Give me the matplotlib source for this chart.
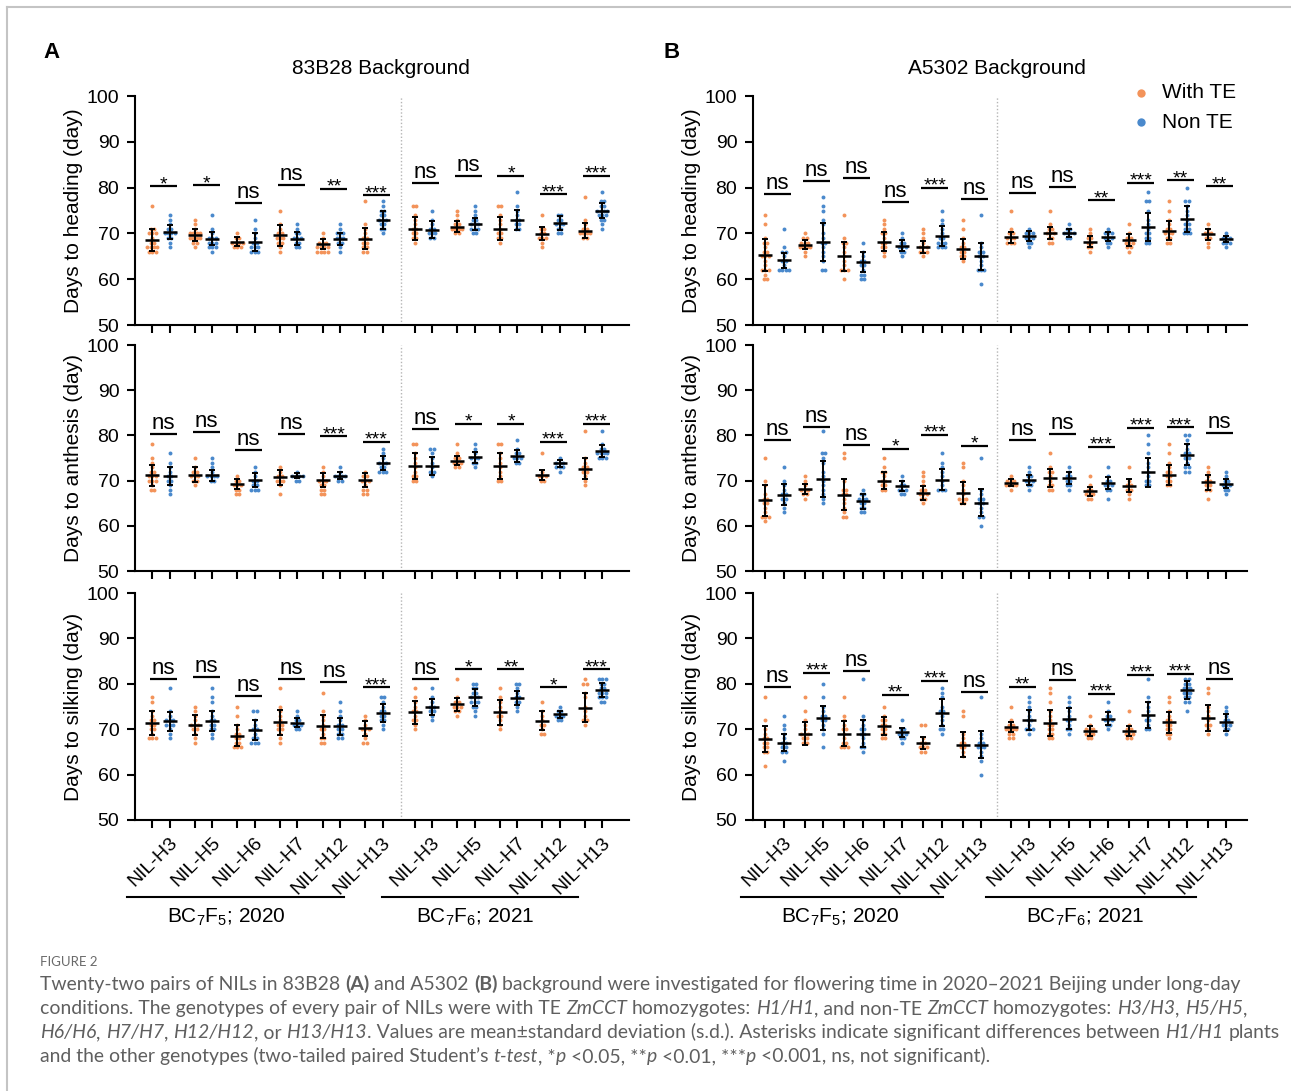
import matplotlib
matplotlib.use('Agg')
import matplotlib.pyplot as plt
from collections import Counter

plt.rcParams['font.family'] = ['Liberation Sans', 'DejaVu Sans']
plt.rcParams['mathtext.fontset'] = 'custom'
plt.rcParams['mathtext.rm'] = 'Liberation Sans'
plt.rcParams['mathtext.it'] = 'Liberation Sans:italic'

ORANGE = '#F3935A'
BLUE = '#4A89CC'

# ---------------- categories ----------------
A_labels_2020 = ['NIL-H3', 'NIL-H5', 'NIL-H6', 'NIL-H7', 'NIL-H12', 'NIL-H13']
A_labels_2021 = ['NIL-H3', 'NIL-H5', 'NIL-H7', 'NIL-H12', 'NIL-H13']
B_labels_2020 = ['NIL-H3', 'NIL-H5', 'NIL-H6', 'NIL-H7', 'NIL-H12', 'NIL-H13']
B_labels_2021 = ['NIL-H3', 'NIL-H5', 'NIL-H6', 'NIL-H7', 'NIL-H12', 'NIL-H13']
row_labels = ['Days to heading (day)', 'Days to anthesis (day)', 'Days to silking (day)']
legend_labels = ['With TE', 'Non TE']

# ---------------- Panel A: 83B28, heading ----------------
AH_te_pts = [[76,71,71,70,70,70,69,68,68,67,67,67,67,66,66,66],[73,72,71,70,70,70,70,69,69,69,69,68,68,67],
             [70,69,69,68,68,68,68,67,67,67],[75,72,71,70,70,69,69,69,68,68,67,66],
             [70,69,68,68,68,67,67,67,67,66,66,66,66],[77,72,71,70,69,69,68,68,67,67,66,66],
             [76,76,74,73,72,71,71,70,70,69,69,68],[75,74,73,72,72,71,71,71,71,70,70],
             [76,76,74,73,72,71,70,70,69,69,68],[74,71,71,70,70,69,69,69,68,67],
             [78,73,72,71,71,70,70,70,70,69,69]]
AH_non_pts = [[74,73,72,71,71,70,70,70,70,69,69,68,67],[74,71,70,69,69,69,68,68,68,67,67,67,66],
              [73,71,70,69,68,68,67,67,67,66,66,66],[72,71,70,70,69,69,69,68,68,67,67],
              [72,71,70,70,70,69,69,69,68,68,67,66],[77,76,75,75,74,74,73,73,73,72,72,71,71,70],
              [75,73,72,71,71,70,70,70,69,69],[76,75,74,73,73,72,72,72,71,71,71,70,70],
              [79,76,75,74,73,73,72,72,71,71],[74,74,73,73,72,72,72,71,71,70,70],
              [79,77,77,76,76,75,75,75,75,74,74,74,73,73,72,71]]
AH_te_mean = [68.6, 69.7, 68.2, 69.6, 67.7, 68.8, 71.0, 71.5, 71.0, 69.9, 70.6]
AH_te_sd = [2.4, 1.3, 1.0, 2.3, 1.1, 2.3, 2.5, 1.2, 2.5, 1.4, 1.7]
AH_non_mean = [70.3, 68.8, 68.1, 68.8, 68.8, 73.0, 70.8, 72.1, 73.0, 72.3, 75.0]
AH_non_sd = [1.6, 1.4, 1.9, 1.4, 1.3, 2.0, 1.8, 1.3, 2.2, 1.6, 1.7]
AH_sig = ['*', '*', 'ns', 'ns', '**', '***', 'ns', 'ns', '*', '***', '***']
AH_sig_y = [80.3, 80.5, 76.6, 80.5, 79.7, 78.3, 81.0, 82.5, 82.5, 78.5, 82.5]

# ---------------- Panel A: anthesis ----------------
AA_te_pts = [[78,75,74,73,72,72,71,71,71,70,70,70,69,68,68],[75,73,72,72,71,71,71,70,70,69],
             [71,70,70,69,69,69,68,68,67,67],[73,72,71,71,70,70,70,69,67],
             [73,72,71,70,70,70,69,69,68,68,67,67],[72,71,71,70,70,70,69,68,68,67,67],
             [78,78,76,75,74,73,72,71,71,70,70],[78,76,75,75,74,74,74,73,73],
             [78,78,76,75,74,73,72,71,70,70],[76,72,71,71,71,70,70],
             [81,75,74,73,73,72,72,71,70,69]]
AA_non_pts = [[76,74,73,72,71,71,70,70,69,68,67],[75,74,73,72,71,71,71,71,70,70],
              [73,72,71,70,70,69,69,68,68,68],[72,71,71,71,71,70,70],
              [73,72,71,71,71,71,70,70],[77,76,75,74,74,74,73,73,72,72,72],
              [77,77,76,75,74,73,72,72,71],[78,77,76,75,75,75,74,74,73],
              [79,77,76,76,75,75,75,74,74],[75,74,74,74,73,73,73,72],
              [81,78,77,77,76,76,76,76,75,75,75]]
AA_te_mean = [71.2, 71.3, 69.3, 70.7, 70.1, 70.1, 73.2, 74.4, 73.2, 71.2, 72.6]
AA_te_sd = [2.3, 1.6, 1.1, 1.6, 1.6, 1.6, 2.9, 1.0, 2.9, 1.1, 2.3]
AA_non_mean = [71.0, 71.2, 70.1, 71.1, 71.1, 73.9, 73.3, 75.2, 75.4, 73.8, 76.5]
AA_non_sd = [1.9, 1.2, 1.5, 0.6, 0.8, 1.5, 2.0, 1.2, 1.3, 0.8, 1.3]
AA_sig = ['ns', 'ns', 'ns', 'ns', '***', '***', 'ns', '*', '*', '***', '***']
AA_sig_y = [80.4, 80.7, 76.8, 80.4, 79.8, 78.5, 81.5, 82.5, 82.5, 78.5, 82.5]

# ---------------- Panel A: silking ----------------
AS_te_pts = [[77,76,74,73,72,72,71,71,70,70,69,68,68,68],[75,74,73,72,71,71,71,70,70,69,68,67],
             [75,73,71,70,69,69,68,68,67,67,66,66,66],[79,75,74,73,72,71,71,70,70,69,68,67],
             [78,74,73,72,71,70,70,69,68,68,67,67],[73,72,71,70,70,70,69,68,67,67],
             [79,77,76,75,74,74,73,72,72,71,70],[81,77,76,76,75,75,75,74,74,73],
             [79,77,76,75,74,73,73,72,71,70],[76,74,73,72,71,71,70,69,69],
             [81,80,80,78,77,75,74,73,72,72,71]]
AS_non_pts = [[79,74,73,72,72,72,71,71,71,70,69,68],[79,77,76,74,73,72,72,71,71,70,70,69,68],
              [74,74,72,71,70,70,69,68,68,67,67,67],[74,73,72,72,71,71,71,70,70],
              [76,74,73,72,71,71,70,70,69,69,68,68],[77,77,76,75,74,74,73,73,72,72,71,70],
              [79,77,76,75,75,74,74,73,72],[80,80,79,79,78,78,77,77,77,76,76,76,75,75,74,73],
              [80,80,79,78,77,77,76,76,75,74],[75,74,74,73,73,73,72,72],
              [81,81,81,80,80,79,79,78,78,78,77,77,77,76,76]]
AS_te_mean = [71.4, 71.0, 68.6, 71.5, 70.6, 70.2, 73.7, 75.5, 73.7, 71.9, 74.7]
AS_te_sd = [2.7, 2.2, 2.4, 2.8, 2.6, 1.6, 2.6, 1.4, 2.7, 2.0, 3.2]
AS_non_mean = [71.7, 71.8, 69.8, 71.4, 70.6, 73.6, 74.9, 77.0, 76.9, 73.3, 78.6]
AS_non_sd = [2.0, 2.2, 2.2, 1.0, 1.8, 2.0, 1.7, 1.8, 1.6, 0.8, 1.6]
AS_sig = ['ns', 'ns', 'ns', 'ns', 'ns', '***', 'ns', '*', '**', '*', '***']
AS_sig_y = [81.1, 81.4, 77.4, 81.1, 80.5, 79.2, 81.1, 83.2, 83.2, 79.2, 83.2]

# ---------------- Panel B: A5302, heading ----------------
BH_te_pts = [[74,72,69,68,68,67,66,66,65,65,65,64,63,62,62,62,61,60,60],[70,69,69,68,68,68,67,67,67,67,66,65],
             [74,69,68,68,67,66,65,64,63,62,62,62,60],[73,72,71,70,70,69,68,68,67,67,66,65],
             [71,70,69,68,67,67,67,66,66,66,65],[73,71,69,68,67,67,66,66,65,65,64],
             [75,71,70,70,69,69,69,68,68,68],[75,72,71,71,70,70,70,69,69,68,68],
             [71,70,69,69,68,68,67,67,66],[72,70,69,69,68,68,68,67,67,66],
             [77,75,73,72,71,71,70,70,70,69,69,68,68],[72,71,70,70,70,69,69,68,67]]
BH_non_pts = [[71,67,66,66,65,64,64,63,62,62,62,62],[78,76,75,73,72,70,69,68,68,67,66,65,64,62,62],
              [68,66,65,64,64,63,63,62,61,61,60,60],[70,69,68,68,67,67,67,66,66,65],
              [75,73,72,71,70,69,69,68,68,68,67,67,67],[74,68,67,66,66,65,65,64,63,62,62,62,59],
              [71,70,70,70,69,69,69,68,68,67],[72,71,71,70,70,70,70,69,69],
              [71,70,70,70,69,69,69,68,68,67],[79,77,77,75,73,72,71,70,70,69,69,68,68],
              [80,77,77,76,75,74,73,72,72,71,71,70,70,70],[70,69,69,69,68,68,68,67]]
BH_te_mean = [65.3, 67.5, 65.0, 68.2, 67.0, 66.6, 69.2, 70.1, 68.2, 68.5, 70.6, 69.8]
BH_te_sd = [3.5, 1.0, 3.2, 2.1, 1.3, 2.1, 1.2, 1.4, 1.2, 1.3, 2.0, 1.2]
BH_non_mean = [64.1, 68.1, 63.7, 67.3, 69.4, 65.0, 69.5, 70.1, 69.3, 71.4, 73.1, 68.8]
BH_non_sd = [1.7, 4.2, 2.2, 1.2, 2.2, 2.9, 1.1, 0.9, 0.9, 3.0, 2.8, 0.7]
BH_sig = ['ns', 'ns', 'ns', 'ns', '***', 'ns', 'ns', 'ns', '**', '***', '**', '**']
BH_sig_y = [78.7, 81.5, 82.1, 76.8, 80.0, 77.5, 78.8, 80.2, 77.2, 81.1, 81.6, 80.3]

# ---------------- Panel B: anthesis ----------------
BA_te_pts = [[75,70,69,67,66,66,65,65,64,63,62,62,62,61],[71,70,69,68,68,68,67,67,66],
             [76,75,70,68,68,67,67,66,65,64,63,62,62],[75,73,72,72,71,70,70,69,69,68,68],
             [72,71,70,69,68,68,67,67,67,66,66,65],[74,73,70,69,68,67,66,66,66,65,65],
             [71,70,70,70,69,69,69,69,68],[76,73,72,72,71,70,69,69,68,68],
             [71,69,68,68,67,67,67,66,66],[73,70,69,69,68,68,67,66],
             [78,76,74,73,72,72,71,71,70,70,69,69],[73,72,71,70,70,69,69,68,68,66]]
BA_non_pts = [[73,70,69,68,67,67,66,66,65,64,63],[81,76,76,75,74,72,71,70,69,68,67,66,65],
              [68,67,67,66,66,66,65,65,64,64,63,63],[71,70,69,69,68,68,68,67,67],
              [76,74,73,72,71,70,69,68,68,68],[75,68,67,66,66,65,65,64,63,62,62,60],
              [73,72,71,71,70,70,70,69,69,68],[73,72,71,71,70,70,69,69,68],
              [73,71,70,70,69,69,69,68,68,66],[80,78,76,74,73,72,71,70,70,69,69],
              [80,80,79,78,77,76,76,75,75,74,73,73,72,72],[72,71,70,70,69,69,69,68,68,67]]
BA_te_mean = [65.6, 68.2, 66.9, 70.0, 67.3, 67.3, 69.5, 70.6, 67.6, 68.9, 71.3, 69.6]
BA_te_sd = [3.4, 1.1, 3.4, 1.9, 1.6, 2.5, 0.8, 2.0, 1.0, 1.5, 2.2, 1.6]
BA_non_mean = [66.9, 70.4, 65.4, 68.8, 70.2, 65.1, 70.2, 70.6, 69.5, 71.8, 75.7, 69.3]
BA_non_sd = [2.3, 4.0, 1.7, 1.2, 2.3, 3.0, 1.1, 1.4, 1.4, 3.2, 2.3, 1.0]
BA_sig = ['ns', 'ns', 'ns', '*', '***', '*', 'ns', 'ns', '***', '***', '***', 'ns']
BA_sig_y = [79.0, 81.8, 77.9, 77.1, 80.1, 77.7, 79.0, 80.4, 77.4, 81.6, 81.8, 80.5]

# ---------------- Panel B: silking ----------------
BS_te_pts = [[77,72,70,69,68,68,67,67,66,66,65,65,62],[77,74,72,71,70,69,69,69,68,68,67,67],
             [77,73,72,71,70,70,69,68,67,67,66,66,66],[75,73,72,72,71,71,70,70,69,69,68,68],
             [71,71,68,67,67,66,66,66,65,65],[74,73,69,68,67,67,66,66,65,64],
             [75,72,71,71,70,70,70,70,69,69,68,68],[79,78,76,74,73,72,71,71,70,70,69,69,68,68],
             [73,71,70,70,70,69,69,69,68,68],[74,71,70,70,69,69,69,68,68],
             [77,76,74,73,72,72,71,71,70,70,69,69,68],[79,78,75,74,73,72,71,71,70,69]]
BS_non_pts = [[73,71,70,69,68,67,67,66,66,65,65,63],[80,77,75,74,73,73,72,72,71,70,69,66],
              [81,73,72,71,70,70,69,69,68,67,66,66,65],[72,70,70,69,69,69,68,68,67],
              [79,78,77,75,74,74,73,72,71,70,70,69],[77,69,68,67,67,66,66,66,65,64,63,60],
              [77,76,75,74,73,72,72,71,70,70,70,69],[77,76,75,74,73,72,72,71,70,70,69],
              [76,74,73,73,72,72,72,71,71,70],[81,77,76,75,74,73,72,72,71,70,70],
              [81,81,80,80,79,79,79,78,78,78,77,77,76,76,74],[75,74,73,72,72,71,71,71,70,70,69]]
BS_te_mean = [67.8, 69.0, 69.0, 70.7, 67.0, 66.6, 70.5, 71.4, 69.6, 69.6, 71.5, 72.5]
BS_te_sd = [2.9, 2.5, 2.7, 1.9, 1.3, 2.8, 1.1, 2.9, 1.1, 1.2, 2.3, 2.8]
BS_non_mean = [67.0, 72.5, 69.0, 69.3, 73.6, 66.6, 72.1, 72.3, 72.3, 73.1, 78.7, 71.5]
BS_non_sd = [1.9, 2.7, 3.0, 1.0, 3.0, 3.0, 2.2, 2.3, 1.4, 2.9, 2.0, 1.8]
BS_sig = ['ns', '***', 'ns', '**', '***', 'ns', '**', 'ns', '***', '***', '***', 'ns']
BS_sig_y = [79.4, 82.4, 82.9, 77.5, 80.7, 78.2, 79.4, 80.9, 77.8, 82.0, 82.2, 81.0]

# ---------------- figure ----------------
W, H = 1291, 1091
fig = plt.figure(figsize=(W / 100, H / 100), dpi=100)
fig.patch.set_facecolor('white')

ov = fig.add_axes([0, 0, 1, 1])
ov.set_xlim(0, W)
ov.set_ylim(H, 0)
ov.axis('off')
ov.patch.set_visible(False)


def px_rect(l, r, t, b):
    return [l / W, 1 - b / H, (r - l) / W, (b - t) / H]


ROWS_PX = [(96, 325), (345, 571), (593, 820)]
PANELS = {
    'A': dict(l=135, r=629, gap=0.16, half=0.205, xlim=(-0.61, 10.99), sep=5.64,
              labels=(A_labels_2020, A_labels_2021),
              rows=[(AH_te_pts, AH_non_pts, AH_te_mean, AH_te_sd, AH_non_mean, AH_non_sd, AH_sig, AH_sig_y),
                    (AA_te_pts, AA_non_pts, AA_te_mean, AA_te_sd, AA_non_mean, AA_non_sd, AA_sig, AA_sig_y),
                    (AS_te_pts, AS_non_pts, AS_te_mean, AS_te_sd, AS_non_mean, AS_non_sd, AS_sig, AS_sig_y)]),
    'B': dict(l=753, r=1247, gap=0.225, half=0.235, xlim=(-0.55, 11.98), sep=5.635,
              labels=(B_labels_2020, B_labels_2021),
              rows=[(BH_te_pts, BH_non_pts, BH_te_mean, BH_te_sd, BH_non_mean, BH_non_sd, BH_sig, BH_sig_y),
                    (BA_te_pts, BA_non_pts, BA_te_mean, BA_te_sd, BA_non_mean, BA_non_sd, BA_sig, BA_sig_y),
                    (BS_te_pts, BS_non_pts, BS_te_mean, BS_te_sd, BS_non_mean, BS_non_sd, BS_sig, BS_sig_y)]),
}

for key, P in PANELS.items():
    n1, n2 = len(P['labels'][0]), len(P['labels'][1])
    centers = list(range(n1)) + [n1 + P['gap'] + j for j in range(n2)]
    names = P['labels'][0] + P['labels'][1]
    px_per_unit = (P['r'] - P['l']) / (P['xlim'][1] - P['xlim'][0])
    u = 1.0 / px_per_unit
    half = P['half']
    for ri, (top, bot) in enumerate(ROWS_PX):
        te_pts, non_pts, te_m, te_s, non_m, non_s, sig, sig_y = P['rows'][ri]
        ax = fig.add_axes(px_rect(P['l'], P['r'], top, bot))
        ax.patch.set_visible(False)
        xt = []
        for i, c in enumerate(centers):
            for x0, pts, m, s, col in [(c - half, te_pts[i], te_m[i], te_s[i], ORANGE),
                                       (c + half, non_pts[i], non_m[i], non_s[i], BLUE)]:
                xt.append(x0)
                cnt = Counter(pts)
                xs, ys = [], []
                for v, nn in cnt.items():
                    for k in range(nn):
                        xs.append(x0 + (k - (nn - 1) / 2) * 3.4 * u)
                        ys.append(v)
                ax.scatter(xs, ys, s=8, color=col, linewidths=0, zorder=2)
                ax.plot([x0 - 7 * u, x0 + 7 * u], [m, m], color='black', lw=1.8,
                        solid_capstyle='butt', zorder=4)
                ax.errorbar([x0], [m], yerr=[s], fmt='none', ecolor='black', elinewidth=1.4,
                            capsize=2.5, capthick=1.4, zorder=4)
            bc = c + 2.5 * u
            ax.plot([bc - 13.5 * u, bc + 13.5 * u], [sig_y[i], sig_y[i]], color='black', lw=1.6,
                    solid_capstyle='butt', clip_on=False)
            if sig[i] == 'ns':
                ax.text(bc, sig_y[i] + 1.1, 'ns', ha='center', va='baseline', fontsize=16)
            else:
                ax.text(bc, sig_y[i] - 0.6, sig[i], ha='center', va='baseline', fontsize=14)
        ax.axvline(P['sep'], color='#b5b5b5', ls=(0, (1, 1.5)), lw=1.0, zorder=1)
        ax.set_xlim(*P['xlim'])
        ax.set_ylim(50, 100)
        ax.spines['top'].set_visible(False)
        ax.spines['right'].set_visible(False)
        ax.spines['left'].set_linewidth(1.5)
        ax.spines['bottom'].set_linewidth(1.5)
        ax.set_xticks(xt)
        ax.set_xticklabels([])
        ax.set_yticks(range(50, 101, 10))
        ax.tick_params(axis='both', direction='out', length=5.8, width=1.5, labelsize=14, pad=5.5)
        ax.set_ylabel(row_labels[ri], fontsize=15, labelpad=3)
        if ri == 2:
            for c, lab in zip(centers, names):
                ax.annotate(lab, xy=(c, 0), xycoords=('data', 'axes fraction'),
                            xytext=(8 * 0.72, -14 * 0.72), textcoords='offset points',
                            rotation=45, rotation_mode='anchor', ha='right', va='top', fontsize=14)

# ---------------- overlay texts ----------------
ov.plot([7, W], [7, 7], color='#c4c4c4', lw=1.5)
ov.plot([7, 7], [7, H], color='#c4c4c4', lw=1.5)

ov.text(52, 53, 'A', fontsize=16, fontweight='bold', ha='center', va='center')
ov.text(672, 53, 'B', fontsize=16, fontweight='bold', ha='center', va='center')
ov.text(381, 68, '83B28 Background', fontsize=15, ha='center', va='center')
ov.text(997, 68, 'A5302 Background', fontsize=15, ha='center', va='center')

ov.plot([1141], [93], 'o', color=ORANGE, ms=6, mew=0)
ov.plot([1141], [122], 'o', color=BLUE, ms=6, mew=0)
ov.text(1162, 93, legend_labels[0], fontsize=15, va='center', ha='left')
ov.text(1162, 122, legend_labels[1], fontsize=15, va='center', ha='left')

group_lines = [(127, 344, 226, r'BC$_\mathregular{7}$F$_\mathregular{5}$; 2020'),
               (382, 578, 475, r'BC$_\mathregular{7}$F$_\mathregular{6}$; 2021'),
               (741, 943, 840, r'BC$_\mathregular{7}$F$_\mathregular{5}$; 2020'),
               (986, 1196, 1085, r'BC$_\mathregular{7}$F$_\mathregular{6}$; 2021')]
for x0, x1, xc, txt in group_lines:
    ov.plot([x0, x1], [897, 897], color='black', lw=1.5)
    ov.text(xc, 917, txt, fontsize=15, ha='center', va='center')

# ---------------- caption ----------------
CAPFONT = ['Lato', 'DejaVu Sans']
CAPCOL = '#5f5f5f'
renderer = fig.canvas.get_renderer()


def tw(txt, size, style='normal', weight='normal'):
    t = ov.text(0, 0, txt, fontsize=size, style=style, weight=weight, family=CAPFONT)
    w = t.get_window_extent(renderer=renderer).width
    t.remove()
    return w


def rich(x, y, segs, size, draw=True):
    sw = tw('a a', size) - tw('aa', size)
    for txt, st, wt in segs:
        lead = len(txt) - len(txt.lstrip(' '))
        trail = len(txt) - len(txt.rstrip(' '))
        core = txt.strip(' ')
        x += lead * sw
        if core:
            if draw:
                ov.text(x, y, core, fontsize=size, style=st, weight=wt, family=CAPFONT,
                        color=CAPCOL, ha='left', va='baseline')
            x += tw(core, size, st, wt)
        x += trail * sw
    return x


N, I, Bd = 'normal', 'italic', 'bold'
cap_lines = [
    [('Twenty-two pairs of NILs in 83B28 ', N, N), ('(A)', N, Bd), (' and A5302 ', N, N), ('(B)', N, Bd),
     (' background were investigated for flowering time in 2020\u20132021 Beijing under long-day', N, N)],
    [('conditions. The genotypes of every pair of NILs were with TE ', N, N), ('ZmCCT', I, N),
     (' homozygotes: ', N, N), ('H1/H1', I, N), (', and non-TE ', N, N), ('ZmCCT', I, N),
     (' homozygotes: ', N, N), ('H3/H3', I, N), (', ', N, N), ('H5/H5', I, N), (',', N, N)],
    [('H6/H6', I, N), (', ', N, N), ('H7/H7', I, N), (', ', N, N), ('H12/H12', I, N), (', or ', N, N),
     ('H13/H13', I, N), ('. Values are mean\u00b1standard deviation (s.d.). Asterisks indicate significant '
                         'differences between ', N, N), ('H1/H1', I, N), (' plants', N, N)],
    [('and the other genotypes (two-tailed paired Student\u2019s ', N, N), ('t-test', I, N), (', *', N, N),
     ('p', I, N), (' <0.05, **', N, N), ('p', I, N), (' <0.01, ***', N, N), ('p', I, N),
     (' <0.001, ns, not significant).', N, N)],
]
base = 12.0
wnat = rich(0, 0, cap_lines[0], base, draw=False)
cap_size = base * 1194 / wnat
ov.text(40, 962, 'FIGURE 2', fontsize=9.5, color='#6a6a6a', family=CAPFONT, va='center', ha='left')
for k, segs in enumerate(cap_lines):
    rich(40, 990 + k * 24.0, segs, cap_size)

fig.savefig('out.png', dpi=100, facecolor='white')
